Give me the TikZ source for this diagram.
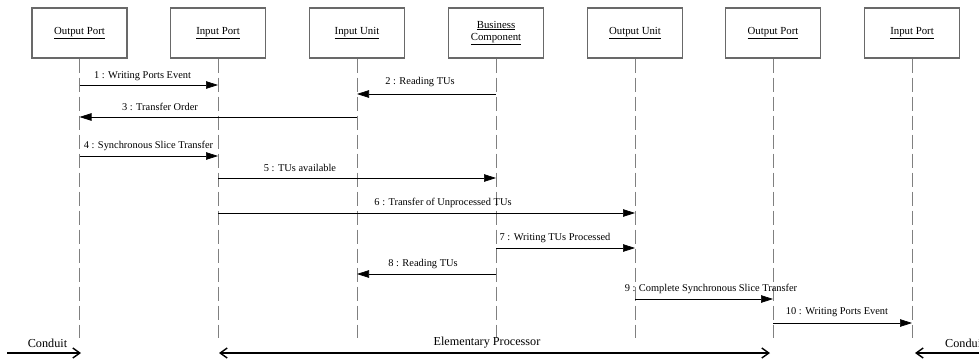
\documentclass[tikz,border=0pt]{standalone}
\usepackage{fontspec}
\setmainfont{Liberation Serif}
\usetikzlibrary{arrows.meta}
\definecolor{boxline}{RGB}{105,105,105}
\definecolor{lifecol}{RGB}{128,128,128}
\tikzset{
  objbox/.style={draw=boxline, line width=1.1pt, fill=white, minimum width=95pt, minimum height=50pt, inner sep=0pt, align=center, font=\fontsize{10.8}{12.5}\selectfont},
  lifeline/.style={draw=lifecol, line width=1pt, dash pattern=on 14pt off 5pt},
  msg/.style={draw=black, line width=0.7pt, -{Triangle[length=12pt,width=7.5pt]}},
  msglabel/.style={inner sep=0pt, font=\fontsize{10.4}{12}\selectfont},
  bigarrow/.style={draw=black, line width=1.6pt, -{Straight Barb[length=7pt,width=10pt,line width=1.4pt]}},
  biglabel/.style={inner sep=0pt, font=\fontsize{12.2}{14}\selectfont},
}
\begin{document}
\begin{tikzpicture}[x=1pt,y=-1pt]
\useasboundingbox (0,0) rectangle (979,360);
% objects
\node[objbox] (b1) at (79.5,33) {\underline{Output Port}};
\node[objbox] (b2) at (218,33) {\underline{Input Port}};
\node[objbox] (b3) at (357,33) {\underline{Input Unit}};
\node[objbox] (b4) at (496,33) {\underline{Business}\\\underline{Component}};
\node[objbox] (b5) at (635,33) {\underline{Output Unit}};
\node[objbox] (b6) at (773,33) {\underline{Output Port}};
\node[objbox] (b7) at (912,33) {\underline{Input Port}};
% lifeline ends
\foreach \i/\x in {1/79.5,2/218,3/357,4/496,5/635,6/773,7/912}{
  \coordinate (e\i) at (\x,338);
  \draw[lifeline] (b\i.south) -- (e\i);
}
% messages
\draw[msg] (b1.south |- 0,85) -- (b2.south |- 0,85);
\node[msglabel] (m1) at (142.5,76) {1 : Writing Ports Event};
\draw[msg] (b4.south |- 0,94) -- (b3.south |- 0,94);
\node[msglabel] (m2) at (420,82) {2 : Reading TUs};
\draw[msg] (b3.south |- 0,117) -- (b1.south |- 0,117);
\node[msglabel] (m3) at (160,107) {3 : Transfer Order};
\draw[msg] (b1.south |- 0,156) -- (b2.south |- 0,156);
\node[msglabel] (m4) at (148.5,146) {4 : Synchronous Slice Transfer};
\draw[msg] (b2.south |- 0,178) -- (b4.south |- 0,178);
\node[msglabel] (m5) at (300,168) {5 : TUs available};
\draw[msg] (b2.south |- 0,213) -- (b5.south |- 0,213);
\node[msglabel] (m6) at (443,203) {6 : Transfer of Unprocessed TUs};
\draw[msg] (b4.south |- 0,248) -- (b5.south |- 0,248);
\node[msglabel] (m7) at (555,238) {7 : Writing TUs Processed};
\draw[msg] (b4.south |- 0,274) -- (b3.south |- 0,274);
\node[msglabel] (m8) at (423,264) {8 : Reading TUs};
\draw[msg] (b5.south |- 0,299) -- (b6.south |- 0,299);
\node[msglabel] (m9) at (711,289) {9 : Complete Synchronous Slice Transfer};
\draw[msg] (b6.south |- 0,323) -- (b7.south |- 0,323);
\node[msglabel] (m10) at (837,312) {10 : Writing Ports Event};
% bottom
\coordinate (c1s) at (7,353);
\coordinate (c1e) at (81,353);
\draw[bigarrow] (c1s) -- (c1e);
\node[biglabel] (cl1) at (47.5,343) {Conduit};
\coordinate (eps) at (219,353);
\coordinate (epe) at (770,353);
\draw[bigarrow, {Straight Barb[length=7pt,width=10pt,line width=1.4pt]}-{Straight Barb[length=7pt,width=10pt,line width=1.4pt]}] (eps) -- (epe);
\node[biglabel] (epl) at (487,343) {Elementary Processor};
\coordinate (c2s) at (990,353);
\coordinate (c2e) at (915,353);
\draw[bigarrow] (c2s) -- (c2e);
\node[biglabel, anchor=west] (cl2) at (945,343) {Conduit};
\end{tikzpicture}
\end{document}
